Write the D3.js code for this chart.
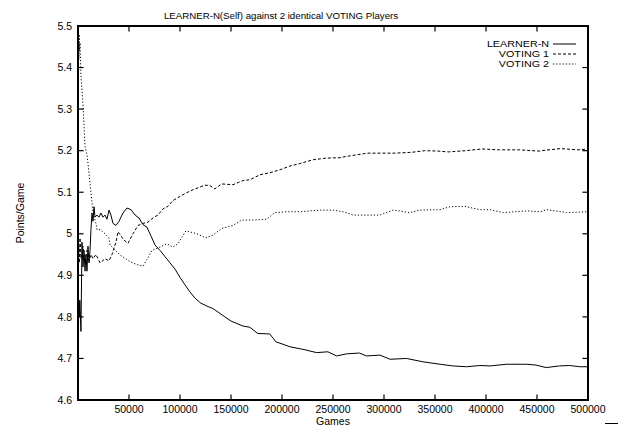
<!DOCTYPE html>
<html>
<head>
<meta charset="utf-8">
<script src="https://cdn.jsdelivr.net/npm/d3@7/dist/d3.min.js"></script>
<style>
    body { margin: 0; background: white; }
    svg text { font-family: "Liberation Sans", Arial, Helvetica, sans-serif;
               fill: black; }
</style>
</head>
<body>
<div id="chartdiv"></div>
<script>
/*global d3 */

////////////////////////////////////////
// data
////////////////////////////////////////

var xTicks = [50000, 100000, 150000, 200000, 250000, 300000,
              350000, 400000, 450000, 500000];
var yTicks = [4.6, 4.7, 4.8, 4.9, 5, 5.1, 5.2, 5.3, 5.4, 5.5];

var learnerGames = [300, 800, 1300, 1800, 2900, 3900, 4900, 5900, 6900,
    7800, 8800, 9800, 10800, 11800, 12700, 13700, 14700, 15700, 16700,
    18600, 20600, 22500, 24500, 26500, 28400, 30400, 32300, 34300, 37200,
    40200, 44100, 48000, 52000, 56000, 59800, 63700, 67600, 71500, 75500,
    80400, 85300, 90200, 95100, 100000, 104900, 109800, 114700, 120500,
    126400, 132300, 138200, 144000, 150000, 161700, 168500, 176300, 188000,
    194000, 200000, 207800, 220500, 234000, 245000, 253500, 263300, 276000,
    282700, 296000, 306000, 322000, 338000, 355000, 367500, 381000, 394000,
    404000, 420000, 440000, 449000, 459000, 472000, 482000, 492000, 500000];
var learnerPts = [4.74, 4.84, 4.80, 4.84, 4.765, 4.98, 4.92, 4.96, 4.91,
    4.95, 4.91, 4.97, 4.93, 4.96, 5.01, 5.05, 5.03, 5.065, 5.04,
    5.045, 5.04, 5.05, 5.04, 5.045, 5.035, 5.057, 5.045, 5.025, 5.02,
    5.03, 5.05, 5.062, 5.058, 5.045, 5.038, 5.022, 5.016, 4.995, 4.973,
    4.96, 4.945, 4.93, 4.915, 4.895, 4.877, 4.86, 4.845, 4.833,
    4.826, 4.82, 4.81, 4.8, 4.79, 4.778, 4.775, 4.76, 4.759,
    4.74, 4.735, 4.728, 4.722, 4.714, 4.716, 4.706, 4.711, 4.713,
    4.706, 4.708, 4.698, 4.7, 4.692, 4.686, 4.682, 4.68, 4.683,
    4.682, 4.686, 4.686, 4.684, 4.678, 4.682, 4.683, 4.68, 4.68];

var voting1Games = [300, 800, 1300, 2000, 2900, 4900, 6900, 8800, 10800,
    12700, 14700, 17600, 21600, 26500, 30400, 33300, 37200, 39200, 42100,
    45000, 49000, 53900, 58800, 63700, 68600, 74500, 78400, 83300, 88200,
    93100, 100000, 105800, 112700, 124400, 129300, 134200, 140800, 151900,
    161700, 168600, 178400, 188200, 198000, 207800, 217600, 230000, 243000,
    256000, 268000, 273000, 284000, 310000, 327000, 340000, 353000, 363000,
    380000, 396000, 413000, 432000, 452000, 458000, 473000, 490000, 500000];
var voting1Pts = [4.88, 4.97, 4.93, 4.99, 4.94, 4.97, 4.93, 4.96, 4.935,
    4.95, 4.94, 4.95, 4.93, 4.94, 4.935, 4.95, 4.98, 5.005, 4.995,
    4.985, 4.977, 5.0, 5.02, 5.025, 5.028, 5.04, 5.045, 5.06, 5.066,
    5.08, 5.09, 5.098, 5.106, 5.117, 5.116, 5.108, 5.12, 5.118,
    5.128, 5.13, 5.142, 5.147, 5.154, 5.163, 5.169, 5.178, 5.182,
    5.183, 5.188, 5.19, 5.194, 5.194, 5.196, 5.2, 5.199, 5.197,
    5.2, 5.204, 5.202, 5.202, 5.199, 5.201, 5.205, 5.202, 5.204];

var voting2Games = [300, 600, 900, 1200, 1500, 2000, 2900, 4900, 6900,
    8800, 9800, 11800, 13500, 14700, 17600, 18600, 21600, 26500, 30400,
    31400, 41200, 51000, 57800, 63700, 67600, 72500, 80400, 87200, 93100,
    98000, 105800, 116600, 125400, 132300, 141100, 152000, 160500, 171800,
    185000, 193000, 204700, 217600, 237000, 250000, 260000, 270000, 279600,
    296000, 309000, 325400, 335000, 354800, 364600, 379000, 394000, 404000,
    417000, 440000, 453000, 459300, 479000, 500000];
var voting2Pts = [5.40, 5.46, 5.42, 5.48, 5.44, 5.46, 5.38, 5.31, 5.21,
    5.19, 5.17, 5.12, 5.08, 5.05, 5.025, 5.01, 5.01, 5.0, 4.99,
    4.973, 4.949, 4.933, 4.926, 4.922, 4.938, 4.96, 4.968, 4.976, 4.968,
    4.976, 5.007, 5.0, 4.99, 4.997, 5.013, 5.02, 5.033, 5.033,
    5.035, 5.051, 5.053, 5.053, 5.057, 5.057, 5.053, 5.045, 5.045,
    5.045, 5.057, 5.051, 5.057, 5.058, 5.065, 5.066, 5.058, 5.058,
    5.051, 5.055, 5.053, 5.058, 5.051, 5.053];

var seriesNames = ["LEARNER-N", "VOTING 1", "VOTING 2"];
var seriesDash = ["none", "3,2", "1.2,2"];


(function () {
    "use strict";

    var cs = {w: 619, h: 431,
              left: 78, right: 588, top: 26, bottom: 400,
              ticklen: 5, fontsize: 10.5},
        svg, x, y, line, series, segs = [];

    svg = d3.select("#chartdiv").append("svg")
        .attr("width", cs.w)
        .attr("height", cs.h);

    x = d3.scaleLinear().domain([0, 500000]).range([cs.left, cs.right]);
    y = d3.scaleLinear().domain([4.6, 5.5]).range([cs.bottom, cs.top]);

    function zipSeries (games, pts) {
        return games.map(function (g, i) {
            return {g: g, v: pts[i]}; });
    }

    series = [zipSeries(learnerGames, learnerPts),
              zipSeries(voting1Games, voting1Pts),
              zipSeries(voting2Games, voting2Pts)];

    //title and axis labels
    svg.append("text")
        .attr("x", 281).attr("y", 19)
        .attr("text-anchor", "middle")
        .style("font-size", "9.7px")
        .text("LEARNER-N(Self) against 2 identical VOTING Players");
    svg.append("text")
        .attr("x", (cs.left + cs.right) / 2).attr("y", 425)
        .attr("text-anchor", "middle")
        .style("font-size", cs.fontsize + "px")
        .text("Games");
    svg.append("text")
        .attr("transform", "translate(24," + ((cs.top + cs.bottom) / 2) +
              ") rotate(-90)")
        .attr("text-anchor", "middle")
        .style("font-size", cs.fontsize + "px")
        .text("Points/Game");

    //the data lines
    line = d3.line()
        .x(function (d) { return x(d.g); })
        .y(function (d) { return y(d.v); });
    svg.append("g").selectAll("path")
        .data(series)
        .join("path")
        .attr("d", line)
        .attr("fill", "none")
        .attr("stroke", "black")
        .attr("stroke-width", 1)
        .attr("stroke-dasharray", function (d, i) { return seriesDash[i]; });

    //frame and gnuplot style inward ticks, all as separate segments
    segs.push([cs.left, cs.top, cs.right, cs.top, 2]);
    segs.push([cs.left, cs.bottom, cs.right, cs.bottom, 2]);
    segs.push([cs.left, cs.top, cs.left, cs.bottom, 2]);
    segs.push([cs.right, cs.top, cs.right, cs.bottom, 2]);
    xTicks.forEach(function (t) {
        segs.push([x(t), cs.bottom, x(t), cs.bottom - cs.ticklen, 1.2]);
        segs.push([x(t), cs.top, x(t), cs.top + cs.ticklen, 1.2]); });
    yTicks.forEach(function (t) {
        segs.push([cs.left, y(t), cs.left + cs.ticklen, y(t), 1.2]);
        segs.push([cs.right, y(t), cs.right - cs.ticklen, y(t), 1.2]); });
    svg.append("g").selectAll("line")
        .data(segs)
        .join("line")
        .attr("x1", function (d) { return d[0]; })
        .attr("y1", function (d) { return d[1]; })
        .attr("x2", function (d) { return d[2]; })
        .attr("y2", function (d) { return d[3]; })
        .attr("stroke", "#000")
        .attr("stroke-width", function (d) { return d[4]; })
        .attr("stroke-linecap", "square");

    svg.append("g").selectAll("text").data(xTicks).join("text")
        .attr("x", function (d) { return x(d); })
        .attr("y", 413)
        .attr("text-anchor", "middle")
        .style("font-size", cs.fontsize + "px")
        .text(d3.format("d"));
    svg.append("g").selectAll("text").data(yTicks).join("text")
        .attr("x", cs.left - 6)
        .attr("y", function (d) { return y(d) + 3.7; })
        .attr("text-anchor", "end")
        .style("font-size", cs.fontsize + "px")
        .text(function (d) { return String(+d.toFixed(1)); });

    //legend, text slightly stretched like the original
    seriesNames.forEach(function (name, i) {
        var ly = 44 + i * 10;
        svg.append("text")
            .attr("transform", "translate(549," + (ly + 3.4) +
                  ") scale(1.12,1)")
            .attr("text-anchor", "end")
            .style("font-size", "9.6px")
            .text(name);
        svg.append("line")
            .attr("x1", 553).attr("x2", 576)
            .attr("y1", ly).attr("y2", ly)
            .attr("stroke", "black")
            .attr("stroke-dasharray", seriesDash[i]);
    });

    //stray mark at the lower right corner of the original
    svg.append("line")
        .attr("x1", 605).attr("x2", 618)
        .attr("y1", 423.5).attr("y2", 423.5)
        .attr("stroke", "black");
}());
</script>
</body>
</html>
